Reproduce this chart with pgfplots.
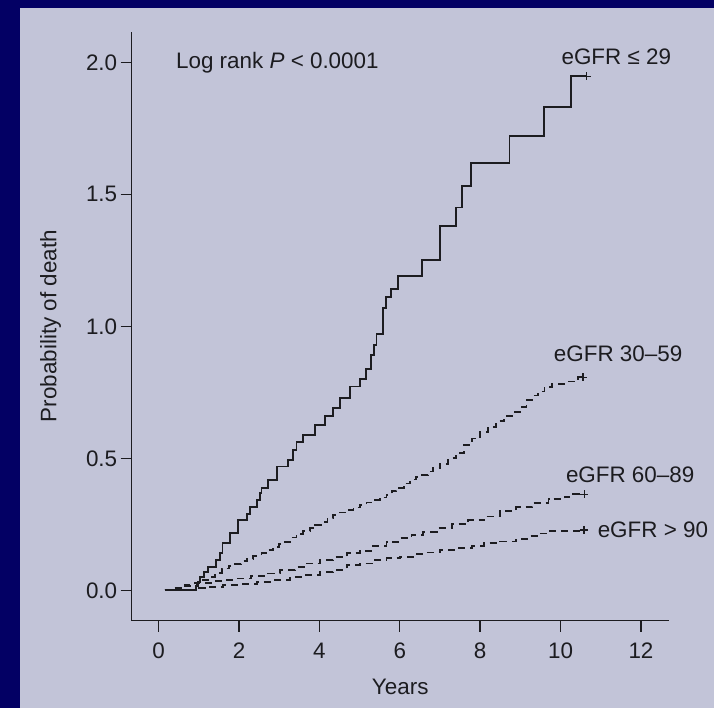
\documentclass[border=0pt]{standalone}
\usepackage{fontspec}
\setmainfont{Liberation Sans}
\usepackage{pgfplots}
\pgfplotsset{compat=1.18}
\definecolor{navyframe}{RGB}{3,0,100}
\definecolor{panel}{RGB}{194,196,216}
\definecolor{ink}{RGB}{28,28,32}

\begin{document}
\begin{tikzpicture}[font=\fontsize{22.5}{27}\selectfont]
\fill[navyframe] (-131.7bp,-87.3bp) rectangle (582.3bp,620.7bp);
\fill[panel] (-111.7bp,-87.3bp) rectangle (582.3bp,612.7bp);
\useasboundingbox (-131.7bp,-87.3bp) rectangle (582.3bp,620.7bp);
\begin{axis}[
  scale only axis, width=537bp, height=589bp,
  xmin=-0.67, xmax=12.69, ymin=-0.115, ymax=2.116,
  axis x line=bottom, axis y line=left,
  axis line style={-, ink, line width=1.4bp},
  tick align=outside, major tick length=11bp,
  tick style={ink, line width=1.4bp},
  xtick={0,2,...,12}, ytick={0,0.5,1,1.5,2},
  /pgf/number format/assume math mode=true,
  yticklabel style={/pgf/number format/fixed, /pgf/number format/fixed zerofill,
    /pgf/number format/precision=1},
  xticklabel style={yshift=-8bp},
  tick label style={font=\fontsize{22.5}{27}\selectfont, text=ink},
  label style={font=\fontsize{22.5}{27}\selectfont, text=ink},
  xlabel={Years}, ylabel={Probability of death},
  xlabel style={at={(axis description cs:0.5,-0.1117)}, anchor=center},
  ylabel style={at={(axis description cs:-0.151,0.5)}, anchor=center},
  clip=false,
]
% eGFR <= 29
\addplot[ink, line width=1.9bp, const plot] coordinates {
  (0.15,0) (0.92,0.015) (0.97,0.03) (1.03,0.05) (1.12,0.07) (1.23,0.09)
  (1.43,0.115) (1.52,0.14) (1.59,0.178) (1.77,0.216) (1.98,0.266) (2.19,0.29)
  (2.27,0.317) (2.44,0.342) (2.52,0.368) (2.56,0.387) (2.73,0.418) (2.94,0.469)
  (3.22,0.494) (3.35,0.532) (3.43,0.563) (3.60,0.589) (3.90,0.627) (4.14,0.661)
  (4.34,0.69) (4.51,0.728) (4.76,0.772) (5.00,0.80) (5.15,0.84) (5.28,0.89)
  (5.35,0.93) (5.42,0.97) (5.58,1.07) (5.65,1.11) (5.78,1.14) (5.95,1.19)
  (6.55,1.25) (7.00,1.38) (7.40,1.45) (7.55,1.53) (7.78,1.62) (8.73,1.72)
  (9.58,1.83) (10.26,1.947) (10.65,1.947)};
% eGFR 30-59
\addplot[ink, line width=1.8bp, const plot, dash pattern=on 7bp off 5bp] coordinates {
  (0.15,0) (0.45,0.01) (0.65,0.02) (0.9,0.03) (1.05,0.04) (1.23,0.05)
  (1.4,0.065) (1.57,0.083) (1.75,0.092) (1.9,0.10) (2.05,0.11) (2.19,0.12)
  (2.35,0.13) (2.56,0.14) (2.7,0.152) (2.85,0.165) (3.0,0.175) (3.14,0.184)
  (3.3,0.2) (3.43,0.213) (3.6,0.224) (3.76,0.235) (3.9,0.248) (4.05,0.26)
  (4.2,0.272) (4.34,0.285) (4.5,0.295) (4.68,0.304) (4.85,0.314) (5.0,0.323)
  (5.17,0.333) (5.34,0.342) (5.5,0.352) (5.67,0.361) (5.8,0.375) (5.92,0.387)
  (6.1,0.405) (6.25,0.42) (6.4,0.43) (6.54,0.437) (6.7,0.45) (6.83,0.462)
  (7.0,0.48) (7.2,0.50) (7.4,0.52) (7.6,0.55) (7.8,0.575) (8.0,0.60)
  (8.2,0.62) (8.4,0.64) (8.6,0.66) (8.8,0.675) (8.99,0.694) (9.15,0.721)
  (9.3,0.738) (9.44,0.753) (9.6,0.77) (9.78,0.782) (10.15,0.791) (10.44,0.807)
  (10.56,0.807)};
% eGFR 60-89
\addplot[ink, line width=1.8bp, const plot, dash pattern=on 7bp off 5bp] coordinates {
  (0.15,0) (0.32,0.008) (0.61,0.016) (0.94,0.029) (1.3,0.035) (1.6,0.04)
  (1.94,0.045) (2.3,0.055) (2.73,0.064) (3.02,0.077) (3.39,0.087) (3.68,0.102)
  (4.01,0.115) (4.34,0.125) (4.68,0.14) (5.0,0.15) (5.34,0.169) (5.67,0.184)
  (5.96,0.197) (6.29,0.21) (6.58,0.222) (6.92,0.235) (7.3,0.25) (7.7,0.265)
  (8.1,0.28) (8.5,0.30) (8.9,0.315) (9.3,0.33) (9.7,0.345) (10.1,0.355)
  (10.3,0.364) (10.59,0.364)};
% eGFR > 90
\addplot[ink, line width=1.8bp, const plot, dash pattern=on 7bp off 5bp] coordinates {
  (0.15,0) (0.6,0.003) (1.0,0.008) (1.28,0.014) (1.61,0.02) (2.02,0.024)
  (2.44,0.033) (2.85,0.039) (3.27,0.052) (3.6,0.058) (4.01,0.07) (4.34,0.077)
  (4.68,0.096) (5.0,0.102) (5.34,0.115) (5.67,0.121) (6.0,0.127) (6.33,0.138)
  (6.67,0.143) (7.0,0.153) (7.4,0.16) (7.8,0.168) (8.1,0.178) (8.5,0.185)
  (8.9,0.195) (9.2,0.205) (9.45,0.215) (9.68,0.225) (10.58,0.229)};
% censoring marks at curve ends
\addplot[ink, only marks, mark=+, mark size=4bp, line width=1.4bp] coordinates {
  (10.65,1.947) (10.56,0.807) (10.59,0.364) (10.58,0.229)};

\node[anchor=west, inner sep=0pt, text=ink] at (axis cs:0.43,2.0) {Log rank \textit{P} < 0.0001};
\node[anchor=west, inner sep=0pt, text=ink] at (axis cs:10.02,2.02) {eGFR ≤ 29};
\node[anchor=west, inner sep=0pt, text=ink] at (axis cs:9.83,0.896) {eGFR 30--59};
\node[anchor=west, inner sep=0pt, text=ink] at (axis cs:10.13,0.437) {eGFR 60--89};
\node[anchor=west, inner sep=0pt, text=ink] at (axis cs:10.92,0.229) {eGFR > 90};
\end{axis}
\end{tikzpicture}
\end{document}
